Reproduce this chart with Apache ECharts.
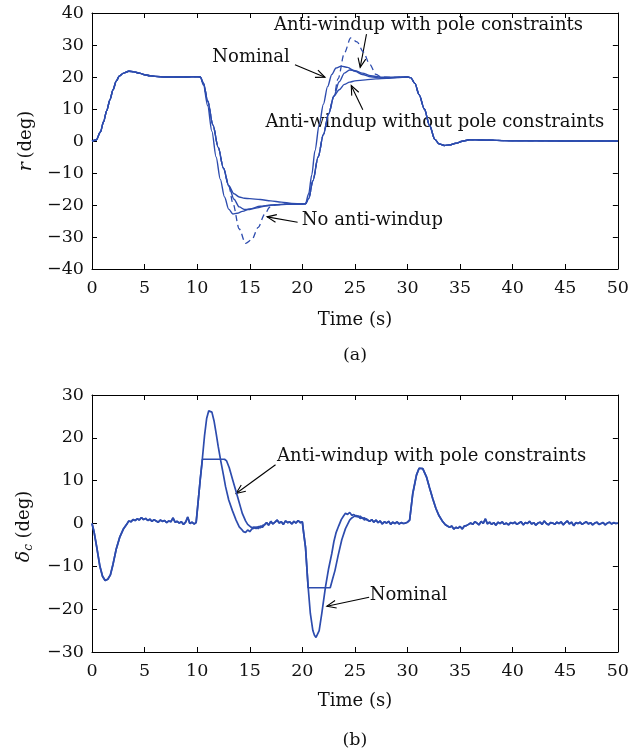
<!DOCTYPE html>
<html><head><meta charset="utf-8">
<script src="https://cdn.jsdelivr.net/npm/echarts@6/dist/echarts.min.js"></script>
<style>html,body{margin:0;padding:0;background:#fff}#c{width:632px;height:755px}</style>
</head><body><div id="c"></div>
<script>
// ---------- data: panel (a) yaw rate r (deg) vs time (s) ----------
const xTicks = [0, 5, 10, 15, 20, 25, 30, 35, 40, 45, 50];
const rTicks = [-40, -30, -20, -10, 0, 10, 20, 30, 40];
const dTicks = [-30, -20, -10, 0, 10, 20, 30];

const rShared0 = [[0,0],[0.4,0.3],[0.8,2.8],[1.1,6],[1.4,9.5],[1.7,12.8],[2.0,16],[2.3,18.7],[2.6,20.3],[3.0,21.2],[3.5,21.8],[4.0,21.6],[4.5,21.2],[5.0,20.7],[5.5,20.4],[6.0,20.2],[7.0,20.0],[8.0,20.0],[9.0,20.0],[10.0,20.1],[10.3,20.0]];
const rShared1 = [[30.3,19.8],[30.7,18],[31.1,14.5],[31.6,10],[32.1,4.8],[32.6,0.5],[33.0,-0.9],[33.5,-1.4],[34.0,-1.2],[34.6,-0.7],[35.2,-0.1],[35.9,0.4],[37,0.3],[40,0.1],[45,0],[50,0]];
const rNominal = [[10.6,17.5],[11.0,11],[11.4,3],[11.8,-5],[12.2,-12],[12.6,-17.5],[13.0,-21.3],[13.4,-22.8],[13.8,-22.6],[14.3,-22],[15.0,-21.2],[16.0,-20.4],[17.0,-20.0],[18.5,-19.8],[20.0,-19.7],[20.3,-19.6],[20.6,-16.5],[20.9,-10.5],[21.2,-3],[21.6,5],[22.0,11.5],[22.4,17],[22.8,20.8],[23.2,22.8],[23.7,23.4],[24.3,23.0],[25.0,21.8],[25.7,20.8],[26.5,20.1],[27.4,19.7],[28.5,19.8],[30.0,20.0]];
const rSatDown = [[10.6,18],[11.0,12.5],[11.5,5],[12.0,-2],[12.5,-8.5],[13.0,-14]];
const rSatUp = [[20.3,-19.6],[20.6,-18],[21.0,-12.5],[21.5,-5],[22.0,2],[22.5,8.5],[23.0,14]];
const rPoleDown = [[13.5,-18.2],[14.0,-20.6],[14.5,-21.4],[15.0,-21.4],[15.7,-20.9],[16.5,-20.3],[17.5,-19.9],[18.5,-19.7],[20.0,-19.7]];
const rPoleUp = [[23.5,18.5],[24.0,21.2],[24.5,22.2],[25.0,22.0],[25.7,21.2],[26.5,20.4],[27.5,19.9],[28.5,19.9],[30.0,20.0]];
const rNoPoleDown = [[13.5,-16.5],[14.0,-17.5],[14.5,-17.9],[15.0,-18.0],[16.0,-18.3],[17.0,-18.7],[18.0,-19.1],[19.0,-19.5],[20.0,-19.7]];
const rNoPoleUp = [[23.5,16],[24.0,17.7],[24.5,18.4],[25.0,18.8],[26.0,19.1],[27.0,19.4],[28.0,19.6],[29.0,19.8],[30.0,20.0]];
const rNoAWDown = [[13.4,-19.5],[14.0,-27.5],[14.6,-32],[15.2,-30.8],[15.8,-27],[16.4,-23],[16.9,-20.7],[17.5,-19.9],[18.5,-19.7],[20.0,-19.7]];
const rNoAWUp = [[23.4,19.5],[24.0,27.5],[24.6,32.2],[25.2,31],[25.8,27.8],[26.4,24],[27.0,20.8],[27.5,20.0],[28.5,19.9],[30.0,20.0]];

// ---------- data: panel (b) commanded rudder delta_c (deg) vs time (s) ----------
const dShared0 = [[0,0],[0.2,-2],[0.45,-5.5],[0.75,-10],[1.0,-12.3],[1.25,-13.3],[1.5,-13],[1.75,-12],[2.0,-9.5],[2.3,-6],[2.65,-3.1],[3.0,-1.2],[3.3,-0.2],[3.5,0.6],[3.7,0.4],[3.9,0.9],[4.1,0.7],[4.3,1.1],[4.5,0.8],[4.7,1.4],[4.9,0.9],[5.1,1.2],[5.3,0.7],[5.5,1.0],[5.7,0.5],[5.9,0.9],[6.1,0.6],[6.3,0.3],[6.5,0.8],[6.7,0.5],[6.9,0.7],[7.1,0.2],[7.3,0.6],[7.5,0.4],[7.7,1.3],[7.9,0.3],[8.1,0.5],[8.3,0.1],[8.5,0.4],[8.7,-0.2],[8.9,0.3],[9.1,1.5],[9.3,0.0],[9.5,0.3],[9.7,-0.1],[9.9,0.2]];
const dNomA = [[10.05,4],[10.3,10.5],[10.5,15.3],[10.7,20.5],[10.9,24.5],[11.1,26.3],[11.25,26.6],[11.4,26],[11.6,24],[11.8,21.1],[12.0,18],[12.25,14.5],[12.5,11.3],[12.7,8.6],[13.0,5.5],[13.35,3],[13.7,0.8],[14.0,-0.8],[14.2,-1.3],[14.4,-1.9],[14.6,-2.1],[14.8,-1.5],[15.0,-1.9],[15.2,-1.3],[15.4,-1.1],[15.6,-0.8],[15.8,-1.2],[16.0,-0.6],[16.2,-0.9],[16.4,-0.3]];
const dAWA = [[10.05,4],[10.3,10.5],[10.5,15.0],[12.6,15.0],[12.8,14.6],[13.05,13],[13.4,10],[13.8,6.6],[14.1,4.0],[14.3,2.3],[14.6,0.6],[14.8,-0.2],[15.0,-0.6],[15.2,-1.0],[15.4,-0.8],[15.6,-1.2],[15.8,-0.7],[16.0,-1.0],[16.2,-0.5],[16.4,-0.3]];
const dShared1 = [[16.6,0.2],[16.8,-0.4],[17.0,0.5],[17.2,-0.1],[17.4,0.3],[17.6,0.8],[17.8,0.1],[18.0,0.4],[18.2,-0.2],[18.4,0.6],[18.6,0.2],[18.8,0.4],[19.0,-0.1],[19.2,0.5],[19.4,0.1],[19.6,0.7],[19.8,0.2],[20.0,0.4],[20.13,-2.3]];
const dNomB = [[20.3,-5.5],[20.55,-14.8],[20.76,-21],[21.0,-25],[21.15,-26.1],[21.3,-26.6],[21.45,-26.2],[21.6,-25],[21.85,-21],[22.2,-14.8],[22.5,-10.5],[22.8,-7],[23.0,-4.2],[23.2,-2.2],[23.45,-0.6],[23.7,0.9],[23.9,1.7],[24.1,2.4],[24.3,2.1],[24.5,2.6],[24.7,1.9],[24.9,2.1],[25.1,1.6],[25.3,1.8],[25.5,1.2],[25.7,1.4],[25.9,0.8],[26.1,1.1],[26.4,0.5]];
const dAWB = [[20.3,-5.5],[20.55,-15],[22.65,-15],[22.85,-13.2],[23.1,-11],[23.4,-7.5],[23.75,-3.8],[24.1,-1.2],[24.5,0.8],[24.7,1.3],[24.9,1.6],[25.1,1.9],[25.3,1.5],[25.5,1.7],[25.7,1.2],[25.9,1.3],[26.1,0.9],[26.4,0.5]];
const dShared2 = [[26.6,0.9],[26.8,0.3],[27.0,0.8],[27.2,0.2],[27.4,0.6],[27.6,-0.1],[27.8,0.4],[28.0,0.1],[28.2,0.5],[28.4,-0.2],[28.6,0.3],[28.8,0.0],[29.0,0.4],[29.2,-0.1],[29.4,0.2],[29.6,0.0],[29.8,0.1],[30.0,0.3],[30.2,0.8],[30.5,7],[30.85,11.3],[31.1,12.9],[31.25,13.3],[31.45,12.8],[31.8,10.9],[32.1,8.3],[32.4,5.8],[32.7,3.5],[33.0,1.8],[33.3,0.6],[33.6,-0.3],[33.8,-0.6],[34.0,-0.9],[34.2,-0.6],[34.4,-1.3],[34.6,-0.9],[34.8,-1.1],[35.0,-0.7],[35.2,-1.3],[35.4,-0.6],[35.6,-0.5],[35.8,-0.2],[36.0,0.1],
 [36.2,-0.2],[36.4,0.4],[36.6,0.1],[36.8,-0.3],[37.0,0.5],[37.2,0.0],[37.4,1.1],[37.6,-0.1],[37.8,0.3],[38.0,-0.2],[38.2,0.2],[38.4,-0.4],[38.6,0.3],[38.8,0.0],[39.0,0.4],[39.2,-0.2],[39.4,0.1],[39.6,-0.3],[39.8,0.2],[40.0,0.0],[40.2,0.3],[40.4,-0.2],[40.6,0.1],[40.8,0.4],[41.0,-0.3],[41.2,0.2],[41.4,0.0],[41.6,0.5],[41.8,-0.1],[42.0,0.2],[42.2,-0.4],[42.4,0.1],[42.6,0.3],[42.8,-0.2],[43.0,0.6],[43.2,0.0],[43.4,-0.3],[43.6,0.2],[43.8,0.1],[44.0,-0.2],[44.2,0.3],[44.4,0.0],[44.6,0.4],[44.8,-0.3],[45.0,0.2],[45.2,0.6],[45.4,-0.1],[45.6,0.3],[45.8,-0.5],[46.0,0.2],[46.2,0.0],[46.4,0.3],[46.6,-0.2],[46.8,0.1],[47.0,0.4],[47.2,-0.1],[47.4,0.2],[47.6,-0.3],[47.8,0.1],[48.0,0.3],[48.2,-0.2],[48.4,0.0],[48.6,0.2],[48.8,-0.3],[49.0,0.1],[49.2,0.3],[49.4,-0.1],[49.6,0.2],[49.8,0.0],[50.0,0.1]];

// ---------- annotations (data coordinates) ----------
const notesA = [
  {text: 'Anti-windup with pole constraints', at: [17.3, 36.3], tail: [26.1, 33.4], tip: [25.5, 23.0]},
  {text: 'Nominal', at: [11.44, 26.0], tail: [19.3, 23.8], tip: [22.15, 19.9]},
  {text: 'Anti-windup without pole constraints', at: [16.5, 5.7], tail: [25.75, 9.8], tip: [24.65, 17.3]},
  {text: 'No anti-windup', at: [19.95, -24.7], tail: [19.55, -25.4], tip: [16.65, -23.7]}
];
const notesB = [
  {text: 'Anti-windup with pole constraints', at: [17.6, 15.6], tail: [17.45, 13.7], tip: [13.7, 7.0]},
  {text: 'Nominal', at: [26.4, -16.8], tail: [26.35, -17.2], tip: [22.33, -19.3]}
];

const FONT = 'DejaVu Serif';
const FS = 17.5;
const FN = 18;
const BLUE = '#2d4cae';
const TXT = '#111';

function minus(v) { return v < 0 ? '\u2212' + (-v) : String(v); }

function xAx(grid, pos, labels) {
  return {
    gridIndex: grid, type: 'value', position: pos, min: xTicks[0], max: xTicks[xTicks.length - 1],
    interval: xTicks[1] - xTicks[0],
    axisLine: {show: true, onZero: false, lineStyle: {color: '#000', width: 1}},
    axisTick: {show: true, inside: true, length: 5, lineStyle: {color: '#000', width: 1}},
    axisLabel: {show: labels, margin: 10, color: TXT, fontFamily: FONT, fontSize: FS},
    splitLine: {show: false}
  };
}
function yAx(grid, pos, ticks, labels) {
  return {
    gridIndex: grid, type: 'value', position: pos, min: ticks[0], max: ticks[ticks.length - 1],
    interval: ticks[1] - ticks[0],
    axisLine: {show: true, onZero: false, lineStyle: {color: '#000', width: 1}},
    axisTick: {show: true, inside: true, length: 5, lineStyle: {color: '#000', width: 1}},
    axisLabel: {show: labels, margin: 8, color: TXT, fontFamily: FONT, fontSize: FS, formatter: minus},
    splitLine: {show: false}
  };
}

function lineSeries(data, xi, yi, opts) {
  return Object.assign({
    type: 'line', xAxisIndex: xi, yAxisIndex: yi, data: data, showSymbol: false, symbol: 'none',
    smooth: 0.3, smoothMonotone: 'x', animation: false, silent: true,
    lineStyle: {color: BLUE, width: 1.4, type: 'solid'}
  }, opts || {});
}

const chart = echarts.init(document.getElementById('c'), null, {renderer: 'canvas'});
chart.setOption({
  animation: false,
  backgroundColor: '#fff',
  grid: [
    {left: 92, top: 13, width: 529, height: 256, containLabel: false},
    {left: 92, top: 395, width: 529, height: 257, containLabel: false}
  ],
  xAxis: [xAx(0, 'bottom', true), xAx(0, 'top', false), xAx(1, 'bottom', true), xAx(1, 'top', false)],
  yAxis: [yAx(0, 'left', rTicks, true), yAx(0, 'right', rTicks, false), yAx(1, 'left', dTicks, true), yAx(1, 'right', dTicks, false)],
  series: [
    lineSeries([].concat(rShared0, rSatDown, rNoAWDown, rSatUp, rNoAWUp, rShared1), 0, 0, {lineStyle: {color: BLUE, width: 1.3, type: [6, 4]}}),
    lineSeries([].concat(rShared0, rSatDown, rNoPoleDown, rSatUp, rNoPoleUp, rShared1), 0, 0),
    lineSeries([].concat(rShared0, rSatDown, rPoleDown, rSatUp, rPoleUp, rShared1), 0, 0),
    lineSeries([].concat(rShared0, rNominal, rShared1), 0, 0),
    lineSeries([].concat(dShared0, dAWA, dShared1, dAWB, dShared2), 2, 2, {smooth: false, lineStyle: {color: BLUE, width: 1.7}}),
    lineSeries([].concat(dShared0, dNomA, dShared1, dNomB, dShared2), 2, 2, {smooth: false, lineStyle: {color: BLUE, width: 1.7}})
  ]
});

function arrowEls(p0, p1) {
  const dx = p1[0] - p0[0], dy = p1[1] - p0[1];
  const len = Math.sqrt(dx * dx + dy * dy);
  const ux = dx / len, uy = dy / len;
  const L = 10, a = 0.4;
  const ca = Math.cos(a), sa = Math.sin(a);
  const b1 = [p1[0] - L * (ux * ca - uy * sa), p1[1] - L * (uy * ca + ux * sa)];
  const b2 = [p1[0] - L * (ux * ca + uy * sa), p1[1] - L * (uy * ca - ux * sa)];
  return [
    {type: 'line', silent: true, shape: {x1: p0[0], y1: p0[1], x2: p1[0], y2: p1[1]}, style: {stroke: '#000', lineWidth: 1.1}},
    {type: 'polyline', silent: true, shape: {points: [b1, p1, b2]}, style: {stroke: '#000', fill: null, lineWidth: 1.1}}
  ];
}
function textEl(x, y, text, align, size) {
  return {type: 'text', x: x, y: y, silent: true,
    style: {text: text, fill: TXT, fontFamily: FONT, fontSize: size || FS, align: align || 'left', verticalAlign: 'middle'}};
}

const g = [];
function addNotes(notes, xi, yi) {
  notes.forEach(n => {
    const at = chart.convertToPixel({xAxisIndex: xi, yAxisIndex: yi}, n.at);
    const t0 = chart.convertToPixel({xAxisIndex: xi, yAxisIndex: yi}, n.tail);
    const t1 = chart.convertToPixel({xAxisIndex: xi, yAxisIndex: yi}, n.tip);
    g.push(textEl(at[0], at[1], n.text, 'left', FN));
    arrowEls(t0, t1).forEach(e => g.push(e));
  });
}
addNotes(notesA, 0, 0);
addNotes(notesB, 2, 2);

const gA = chart.getModel().getComponent('grid', 0).coordinateSystem.getRect();
const gB = chart.getModel().getComponent('grid', 1).coordinateSystem.getRect();
const cxA = gA.x + gA.width / 2, cxB = gB.x + gB.width / 2;
g.push(textEl(cxA, gA.y + gA.height + 51, 'Time (s)', 'center', FN));
g.push(textEl(cxA, gA.y + gA.height + 86, '(a)', 'center', FS));
g.push(textEl(cxB, gB.y + gB.height + 49, 'Time (s)', 'center', FN));
g.push(textEl(cxB, gB.y + gB.height + 88, '(b)', 'center', FS));
g.push({type: 'text', x: 26, y: gA.y + gA.height / 2, rotation: Math.PI / 2, silent: true,
  style: {text: '{i|r}{n|\u2009(deg)}', fill: TXT, fontFamily: FONT, fontSize: FN, align: 'center', verticalAlign: 'middle',
    rich: {i: {fontStyle: 'italic', fontFamily: FONT, fontSize: 19, fill: TXT}, n: {fontFamily: FONT, fontSize: FN, fill: TXT}}}});
g.push({type: 'text', x: 24, y: gB.y + gB.height / 2 + 3, rotation: Math.PI / 2, silent: true,
  style: {text: '{i|\u03b4}{s|c}{n| (deg)}', fill: TXT, fontFamily: FONT, fontSize: FN, align: 'center', verticalAlign: 'middle',
    rich: {i: {fontStyle: 'italic', fontFamily: FONT, fontSize: 19, fill: TXT},
           s: {fontStyle: 'italic', fontFamily: FONT, fontSize: 12, fill: TXT, padding: [10, 0, 0, 0]},
           n: {fontFamily: FONT, fontSize: FN, fill: TXT}}}});

chart.setOption({graphic: g});
</script>
</body></html>
